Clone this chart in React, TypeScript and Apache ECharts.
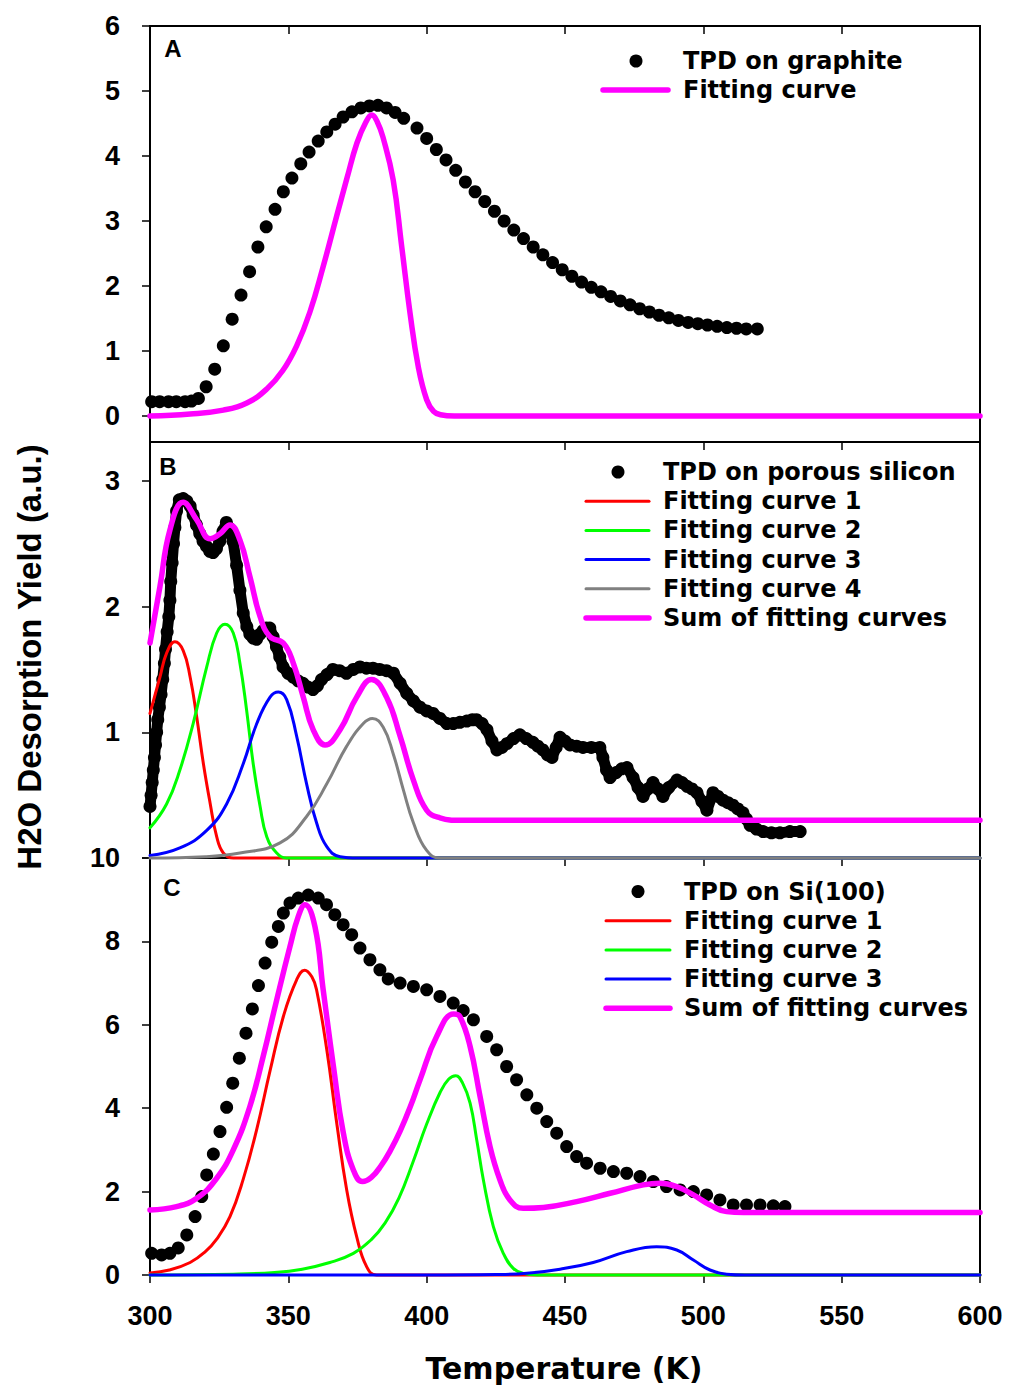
import React, { useEffect, useRef } from "react";
import * as echarts from "echarts";

// ---------- tick values ----------
const X_TICKS = [300, 350, 400, 450, 500, 550, 600];
const A_Y_TICKS = [0, 1, 2, 3, 4, 5, 6];
const B_Y_TICKS = [0, 1, 2, 3];
const B_Y_LABELS = [1, 2, 3];
const C_Y_TICKS = [0, 2, 4, 6, 8, 10];

// ---------- legend texts ----------
const LEGEND_A = ["TPD on graphite", "Fitting curve"];
const LEGEND_B = ["TPD on porous silicon", "Fitting curve 1", "Fitting curve 2", "Fitting curve 3", "Fitting curve 4", "Sum of fitting curves"];
const LEGEND_C = ["TPD on Si(100)", "Fitting curve 1", "Fitting curve 2", "Fitting curve 3", "Sum of fitting curves"];
const PANEL_LABELS = ["A", "B", "C"];
const X_TITLE = "Temperature (K)";
const Y_TITLE = "H2O Desorption Yield (a.u.)";

// ---------- panel A: graphite ----------
const tpdGraphite: number[][] = [
  [300.6, 0.22], [303.5, 0.22], [306.7, 0.22], [309.5, 0.22], [312.7, 0.22], [315, 0.23], [317.5, 0.27],
  [320.3, 0.45], [323.4, 0.72], [326.5, 1.08], [329.7, 1.49], [332.9, 1.86], [336, 2.22], [339, 2.6],
  [342, 2.91], [345.2, 3.18], [348.2, 3.45], [351.3, 3.66], [354.5, 3.88], [357.5, 4.06], [360.8, 4.23],
  [363.9, 4.37], [366.9, 4.49], [369.8, 4.6], [373, 4.68], [376.2, 4.74], [379.3, 4.77], [382.4, 4.78],
  [385.5, 4.74], [388.6, 4.67], [391.7, 4.58], [396.5, 4.43], [400, 4.27], [403.5, 4.1], [407, 3.94],
  [410.5, 3.78], [414, 3.6], [417.5, 3.45], [421, 3.3], [424.5, 3.15], [428, 3.0], [431.5, 2.86],
  [435, 2.73], [438.5, 2.6], [442, 2.48], [445.5, 2.36], [449, 2.25], [452.5, 2.15], [456, 2.06],
  [459.5, 1.98], [463, 1.91], [466.5, 1.84], [470, 1.77], [473.5, 1.71], [477, 1.65], [480.5, 1.6],
  [484, 1.55], [487.5, 1.51], [491, 1.47], [494.5, 1.44], [498, 1.42], [501.5, 1.4], [505, 1.38],
  [508.5, 1.36], [512, 1.35], [515.5, 1.34], [519.5, 1.34],
];
const fitGraphite: number[][] = [
  [300, 0], [314.5, 0.03], [326.5, 0.09], [335, 0.2], [342.3, 0.42], [348, 0.7], [353, 1.08],
  [357.8, 1.6], [362.6, 2.3], [367.5, 3.08], [371.2, 3.66], [374.8, 4.2], [378, 4.52], [380.2, 4.63],
  [382.2, 4.52], [384.2, 4.29], [387.9, 3.63], [391, 2.6], [394, 1.58], [397, 0.75], [400, 0.25],
  [402.5, 0.07], [405, 0.02], [410, 0], [450, 0], [600, 0],
];

// ---------- panel B: porous silicon ----------
const tpdPorous: number[][] = [
  [300, 0.41], [300.4, 0.5], [300.8, 0.6], [301.2, 0.7], [301.6, 0.8], [302, 0.9], [302.4, 1.0], [302.8, 1.1],
  [303.4, 1.2], [304, 1.3], [304.6, 1.42], [305.2, 1.55], [305.6, 1.66], [306.2, 1.8], [306.8, 1.92],
  [307.2, 2.05], [307.5, 2.2], [308, 2.35], [308.5, 2.5], [309, 2.63], [309.6, 2.76], [310.6, 2.85],
  [312, 2.86], [313.3, 2.84], [314.5, 2.8], [315.6, 2.73], [316.8, 2.65], [318, 2.58], [319.2, 2.52],
  [320.4, 2.48], [321.6, 2.44], [322.8, 2.43], [324, 2.46], [325.2, 2.52], [326.4, 2.6], [327.6, 2.67],
  [328.8, 2.62], [330, 2.52], [331.3, 2.33], [332.5, 2.13], [333.7, 1.95], [335, 1.84], [336.1, 1.78],
  [337.3, 1.75], [338.5, 1.74], [339.7, 1.78], [340.9, 1.81], [342.1, 1.83], [343.3, 1.83], [344.5, 1.76],
  [345.7, 1.68], [346.9, 1.6], [348.1, 1.52], [349.9, 1.47], [351.7, 1.44], [353.5, 1.41], [355.3, 1.39],
  [357.1, 1.36], [358.9, 1.34], [360.5, 1.37], [362, 1.42], [364, 1.46], [366.1, 1.5], [368.5, 1.49],
  [371, 1.47], [373.5, 1.5], [375.9, 1.52], [378.2, 1.51], [380.6, 1.51], [383, 1.5], [385.5, 1.49],
  [388, 1.47], [390.4, 1.39], [392.8, 1.31], [395.2, 1.25], [397.6, 1.2], [400, 1.17], [402.3, 1.15],
  [404.8, 1.11], [407.3, 1.07], [409.6, 1.07], [412, 1.08], [414.5, 1.09], [416.5, 1.1], [418, 1.1],
  [420, 1.07], [421.8, 1.02], [423.6, 0.93], [425.4, 0.86], [427.2, 0.88], [429, 0.91], [431.4, 0.95],
  [433.7, 0.98], [436, 0.95], [438.4, 0.92], [440.2, 0.89], [442, 0.86], [443.7, 0.82], [445.3, 0.8],
  [446.8, 0.88], [448.2, 0.96], [450, 0.93], [451.8, 0.9], [454.2, 0.89], [456.5, 0.88], [459.5, 0.88],
  [462.6, 0.88], [463.7, 0.8], [465, 0.7], [466.3, 0.64], [468.5, 0.68], [470.5, 0.71], [472.4, 0.72],
  [474.6, 0.64], [476.4, 0.56], [478.2, 0.49], [480, 0.55], [481.8, 0.6], [483.6, 0.55], [485.4, 0.49],
  [487.5, 0.56], [490.5, 0.62], [492.3, 0.6], [494.1, 0.57], [495.9, 0.55], [497.7, 0.52], [499.5, 0.45],
  [501.3, 0.38], [503.5, 0.52], [505.3, 0.49], [507.1, 0.46], [508.9, 0.44], [510.7, 0.42], [512.5, 0.39],
  [514.3, 0.36], [515.6, 0.31], [516.9, 0.26], [519.2, 0.23], [521.6, 0.21], [524.6, 0.2], [527.7, 0.2],
  [531.3, 0.21], [535, 0.21],
];
const porousFit1: number[][] = [
  [300, 1.15], [303.6, 1.44], [306, 1.63], [309, 1.72], [312, 1.65], [314.5, 1.44], [316.9, 1.12],
  [319.3, 0.75], [321.7, 0.44], [324.1, 0.17], [326.5, 0.04], [330.1, 0], [360, 0], [600, 0],
];
const porousFit2: number[][] = [
  [300, 0.24], [306, 0.43], [310.8, 0.7], [315.6, 1.07], [320.5, 1.52], [324.1, 1.79], [327.1, 1.86],
  [330.1, 1.79], [332.5, 1.55], [334.9, 1.18], [337.3, 0.75], [339.8, 0.41], [342.2, 0.17], [345.8, 0.04],
  [349.4, 0], [380, 0], [600, 0],
];
const porousFit3: number[][] = [
  [300, 0.02], [310.8, 0.08], [320.5, 0.22], [327.7, 0.43], [333.7, 0.75], [338.6, 1.07], [343.4, 1.28],
  [346.4, 1.32], [349.4, 1.26], [353, 0.97], [356.6, 0.59], [360.2, 0.28], [363.9, 0.09], [368.7, 0.01],
  [375, 0], [420, 0], [600, 0],
];
const porousFit4: number[][] = [
  [300, 0], [320, 0.01], [332.5, 0.04], [347, 0.12], [356.6, 0.33], [363.9, 0.59], [371.1, 0.89],
  [377.1, 1.07], [380.4, 1.11], [384.3, 1.04], [387.9, 0.83], [391.6, 0.54], [395.2, 0.28], [400, 0.06],
  [404.8, 0], [450, 0], [600, 0],
];
const porousSum: number[][] = [
  [300, 1.71], [303.6, 2.16], [307.2, 2.61], [312, 2.83], [316.9, 2.69], [321.7, 2.54], [325.3, 2.58],
  [328.9, 2.65], [332.5, 2.53], [336.1, 2.24], [339.8, 1.92], [343.4, 1.76], [348.2, 1.71], [351.8, 1.55],
  [355.4, 1.28], [359, 1.02], [363.3, 0.9], [368.7, 1.02], [374.7, 1.28], [380.1, 1.42], [385.5, 1.28],
  [390.4, 0.97], [395.2, 0.62], [400, 0.38], [404.8, 0.32], [412, 0.3], [450, 0.3], [600, 0.3],
];

// ---------- panel C: Si(100) ----------
const tpdSi: number[][] = [
  [300.6, 0.52], [304.2, 0.48], [307.2, 0.52], [310.2, 0.65], [313.3, 0.96], [316.3, 1.4], [318.7, 1.88],
  [320.5, 2.4], [322.9, 2.9], [325.3, 3.44], [327.7, 4.02], [329.9, 4.6], [332.3, 5.2], [334.7, 5.8],
  [337, 6.38], [339.2, 6.94], [341.6, 7.48], [344, 7.98], [346.4, 8.36], [348.2, 8.68], [350.6, 8.92],
  [353.6, 9.04], [357.2, 9.11], [360.8, 9.04], [363.8, 8.88], [366.8, 8.64], [369.8, 8.4], [372.9, 8.16],
  [375.9, 7.84], [379.5, 7.56], [383.1, 7.32], [386.1, 7.1], [390.4, 7.0], [395.2, 6.92], [400, 6.84],
  [404.8, 6.68], [409.6, 6.52], [413.2, 6.34], [416.9, 6.12], [421.7, 5.72], [425.3, 5.4], [428.9, 5.0],
  [432.5, 4.68], [436.2, 4.32], [439.8, 4.0], [443.4, 3.68], [447, 3.4], [450.6, 3.08], [454.2, 2.84],
  [457.8, 2.68], [462.7, 2.56], [467.5, 2.48], [472.3, 2.44], [477.1, 2.36], [481.9, 2.24], [486.7, 2.12],
  [491.6, 2.04], [496.4, 2.0], [501.2, 1.92], [506, 1.8], [510.8, 1.68], [515.6, 1.68], [520.5, 1.68],
  [525.3, 1.66], [529.5, 1.64],
];
const siFit1: number[][] = [
  [300, 0.05], [307, 0.12], [314.5, 0.3], [320, 0.56], [324.1, 0.86], [328.9, 1.4], [333.7, 2.3],
  [338.6, 3.5], [343.4, 4.9], [348.2, 6.2], [353, 7.08], [355.9, 7.31], [358.5, 7.15], [360.2, 6.84],
  [363.9, 5.4], [367.5, 3.64], [371.1, 2.04], [374.7, 0.92], [378.3, 0.2], [381.9, 0], [420, 0], [600, 0],
];
const siFit2: number[][] = [
  [300, 0], [330, 0.02], [345, 0.06], [355, 0.14], [365, 0.3], [373.5, 0.52], [380, 0.85], [385, 1.25],
  [390, 1.85], [395, 2.7], [400, 3.62], [405, 4.4], [408, 4.7], [410.5, 4.78], [413, 4.6], [415.7, 4.12],
  [418.1, 3.24], [420.5, 2.28], [424.1, 1.16], [427.7, 0.52], [431.3, 0.16], [434.9, 0.04], [440, 0],
  [480, 0], [600, 0],
];
const siFit3: number[][] = [
  [300, 0], [400, 0], [425, 0.01], [436.2, 0.04], [448.2, 0.14], [460.2, 0.3], [472.3, 0.56],
  [483.1, 0.68], [490.4, 0.6], [496.4, 0.36], [502.4, 0.12], [508.4, 0.02], [515, 0], [550, 0], [600, 0],
];
const siSum: number[][] = [
  [300, 1.56], [309.6, 1.64], [316.9, 1.84], [324.1, 2.32], [330.1, 3.0], [336.1, 4.04], [340.9, 5.24],
  [345.8, 6.6], [350.6, 7.88], [353.6, 8.6], [356, 8.88], [359.6, 8.36], [362.6, 6.84], [366.3, 5.0],
  [369.9, 3.4], [373.5, 2.52], [376.8, 2.24], [380, 2.34], [383.5, 2.62], [387, 3.0], [390.4, 3.45],
  [394, 4.02], [397.6, 4.68], [403.6, 5.72], [409.8, 6.26], [412, 6.2], [415.7, 5.48], [419.3, 4.28],
  [422.9, 3.08], [426.5, 2.28], [430.1, 1.8], [434.9, 1.6], [442.2, 1.62], [454.2, 1.76], [466.3, 1.96],
  [478.3, 2.16], [484.3, 2.2], [490.4, 2.12], [496.4, 1.92], [502.4, 1.68], [508.4, 1.52], [514.5, 1.5],
  [540, 1.5], [600, 1.5],
];

// ---------- styles ----------
const RED = "#ff0000";
const GREEN = "#00ff00";
const BLUE = "#0000ff";
const GRAY = "#808080";
const MAGENTA = "#ff00ff";
const ARIAL = '"Liberation Sans", Arial, Helvetica, sans-serif';
const WIDE = '"DejaVu Sans", "Liberation Sans", sans-serif';
const NARROW = '"Liberation Sans Narrow", "Liberation Sans", Arial, sans-serif';

const GRID_LEFT = 150;
const GRID_W = 830;
const THIN = 3;
const THICK = 5.5;

function xAxisFor(gridIndex: number, showLabels: boolean, position: string = "bottom", inside = false) {
  return {
    type: "value",
    gridIndex,
    position,
    min: 300,
    max: 600,
    interval: 50,
    axisLine: { show: true, onZero: false, lineStyle: { color: "#000", width: 2 } },
    axisTick: { show: true, inside, length: 8, lineStyle: { color: "#000", width: 1.5 } },
    axisLabel: {
      show: showLabels,
      customValues: X_TICKS,
      margin: 27,
      color: "#000",
      fontFamily: NARROW,
      fontWeight: "bold",
      fontSize: 27,
    },
    splitLine: { show: false },
  };
}

function yAxisFor(gridIndex: number, min: number, max: number, ticks: number[], labels: number[]) {
  return {
    type: "value",
    gridIndex,
    min,
    max,
    axisLine: { show: true, onZero: false, lineStyle: { color: "#000", width: 2 } },
    axisTick: { show: true, length: 8, customValues: ticks, lineStyle: { color: "#000", width: 1.5 } },
    axisLabel: {
      show: true,
      customValues: labels,
      margin: 30,
      color: "#000",
      fontFamily: ARIAL,
      fontWeight: "bold",
      fontSize: 27,
      formatter: (v: number) => String(Math.round(v)),
    },
    splitLine: { show: false },
  };
}

function fitLine(name: string, data: number[][], color: string, width: number, xi: number, yi: number) {
  return {
    name,
    type: "line",
    xAxisIndex: xi,
    yAxisIndex: yi,
    data,
    showSymbol: false,
    symbol: "none",
    smooth: 0.45,
    clip: false,
    lineStyle: { color, width, cap: "round", join: "round" },
    itemStyle: { color },
    z: 3,
  };
}

function legendBlock(
  dotX: number,
  lineX1: number,
  lineX2: number,
  textX: number,
  rowY: number[],
  texts: string[],
  colors: string[],
) {
  const els: any[] = [];
  texts.forEach((t, i) => {
    const y = rowY[i];
    if (i === 0) {
      els.push({ type: "circle", shape: { cx: dotX, cy: y, r: 6.5 }, style: { fill: "#000" } });
    } else {
      const c = colors[i];
      const w = c === MAGENTA ? THICK : THIN;
      els.push({
        type: "line",
        shape: { x1: lineX1, y1: y, x2: lineX2, y2: y },
        style: { stroke: c, lineWidth: w, lineCap: "round" },
      });
    }
    els.push({
      type: "text",
      x: textX,
      y,
      style: {
        text: t,
        fill: "#000",
        font: `bold 24px ${WIDE}`,
        align: "left",
        verticalAlign: "middle",
      },
    });
  });
  return els;
}

export default function App() {
  const ref = useRef<HTMLDivElement>(null);

  useEffect(() => {
    if (!ref.current) return;
    const chart = echarts.init(ref.current, undefined, { renderer: "svg" });

    const rowsB = [472, 501.2, 530.4, 559.6, 588.8, 618];
    const rowsC = [891.5, 920.7, 949.9, 979.1, 1008.3];
    const rowsA = [61, 90];

    const panelText = (i: number, x: number, y: number) => ({
      type: "text",
      x,
      y,
      style: { text: PANEL_LABELS[i], fill: "#000", font: `bold 24px ${ARIAL}`, align: "center", verticalAlign: "middle" },
    });

    const graphic: any[] = [
      ...legendBlock(636, 603, 668, 683, rowsA, LEGEND_A, ["#000", MAGENTA]),
      ...legendBlock(618, 586, 649, 663, rowsB, LEGEND_B, ["#000", RED, GREEN, BLUE, GRAY, MAGENTA]),
      ...legendBlock(638, 606, 670, 684, rowsC, LEGEND_C, ["#000", RED, GREEN, BLUE, MAGENTA]),
      panelText(0, 173, 48),
      panelText(1, 168, 466),
      panelText(2, 172, 887),
      {
        type: "text",
        x: 564,
        y: 1368,
        style: { text: X_TITLE, fill: "#000", font: `bold 30px ${WIDE}`, align: "center", verticalAlign: "middle" },
      },
      {
        type: "text",
        x: 29,
        y: 657,
        rotation: Math.PI / 2,
        style: { text: Y_TITLE, fill: "#000", font: `bold 33px ${ARIAL}`, align: "center", verticalAlign: "middle" },
      },
    ];

    const option: any = {
      animation: false,
      backgroundColor: "#fff",
      grid: [
        { left: GRID_LEFT, top: 26, width: GRID_W, height: 416, show: true, borderColor: "#000", borderWidth: 2, backgroundColor: "transparent" },
        { left: GRID_LEFT, top: 442, width: GRID_W, height: 416, show: true, borderColor: "#000", borderWidth: 2, backgroundColor: "transparent" },
        { left: GRID_LEFT, top: 858, width: GRID_W, height: 417, show: true, borderColor: "#000", borderWidth: 2, backgroundColor: "transparent" },
      ],
      xAxis: [
        xAxisFor(0, false),
        xAxisFor(1, false),
        xAxisFor(2, true),
        xAxisFor(0, false, "top", true),
      ],
      yAxis: [
        yAxisFor(0, -0.4, 6, A_Y_TICKS, A_Y_TICKS),
        yAxisFor(1, 0, 3.31, B_Y_TICKS, B_Y_LABELS),
        yAxisFor(2, 0, 10, C_Y_TICKS, C_Y_TICKS),
      ],
      series: [
        {
          name: LEGEND_A[0],
          type: "scatter",
          xAxisIndex: 0,
          yAxisIndex: 0,
          data: tpdGraphite,
          symbol: "circle",
          symbolSize: 13,
          itemStyle: { color: "#000", opacity: 1 },
          z: 2,
        },
        fitLine(LEGEND_A[1], fitGraphite, MAGENTA, THICK, 0, 0),

        {
          name: LEGEND_B[0],
          type: "line",
          xAxisIndex: 1,
          yAxisIndex: 1,
          data: tpdPorous,
          symbol: "circle",
          symbolSize: 13,
          showSymbol: true,
          showAllSymbol: true,
          clip: false,
          lineStyle: { color: "#000", width: 11, cap: "round", join: "round" },
          itemStyle: { color: "#000", opacity: 1 },
          z: 2,
        },
        fitLine(LEGEND_B[1], porousFit1, RED, THIN, 1, 1),
        fitLine(LEGEND_B[2], porousFit2, GREEN, THIN, 1, 1),
        fitLine(LEGEND_B[3], porousFit3, BLUE, THIN, 1, 1),
        fitLine(LEGEND_B[4], porousFit4, GRAY, THIN, 1, 1),
        fitLine(LEGEND_B[5], porousSum, MAGENTA, THICK, 1, 1),

        {
          name: LEGEND_C[0],
          type: "scatter",
          xAxisIndex: 2,
          yAxisIndex: 2,
          data: tpdSi,
          symbol: "circle",
          symbolSize: 13,
          itemStyle: { color: "#000", opacity: 1 },
          z: 2,
        },
        fitLine(LEGEND_C[4], siSum, MAGENTA, THICK, 2, 2),
        fitLine(LEGEND_C[1], siFit1, RED, THIN, 2, 2),
        fitLine(LEGEND_C[2], siFit2, GREEN, THIN, 2, 2),
        fitLine(LEGEND_C[3], siFit3, BLUE, THIN, 2, 2),
      ],
      graphic,
    };

    chart.setOption(option);
    return () => chart.dispose();
  }, []);

  return (
    <div
      ref={ref}
      style={{ position: "absolute", left: 0, top: 0, width: 1011, height: 1387, background: "#fff" }}
    />
  );
}
